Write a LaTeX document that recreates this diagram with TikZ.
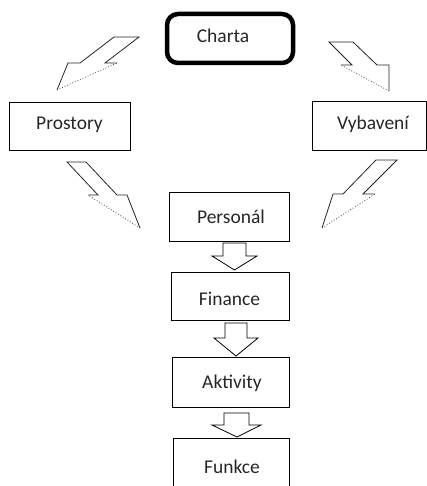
\documentclass[tikz,border=0pt]{standalone}
\usepackage{fontspec}
\setmainfont{Carlito}
\begin{document}
\begin{tikzpicture}[x=1pt,y=-1pt,
  box/.style={draw=black,line width=0.9pt,inner sep=0pt},
  lbl/.style={inner sep=0pt,anchor=base,font=\fontsize{19.5}{23}\selectfont,text=black!85},
  blk/.style={draw=black,line width=0.8pt,line join=miter,fill=white},
  bolt/.style={draw=black!85,line width=0.8pt,line join=miter},
  boltdot/.style={draw=black!70,line width=0.8pt,dotted}]
\useasboundingbox (0,0) rectangle (427,486);
\clip (0,0) rectangle (427,486);
% boxes
\node[box,line width=4.5pt,rounded corners=11pt,minimum width=126pt,minimum height=49pt] (charta) at (230,38.5) {};
\node[box,minimum width=121pt,minimum height=48pt] (prostory) at (69.5,126) {};
\node[box,minimum width=114pt,minimum height=49pt] (vybaveni) at (369,125.5) {};
\node[box,minimum width=120pt,minimum height=49pt] (personal) at (229,216.5) {};
\node[box,minimum width=118pt,minimum height=48pt] (finance) at (230,296) {};
\node[box,minimum width=117pt,minimum height=50pt] (aktivity) at (230.5,382) {};
\node[box,minimum width=116pt,minimum height=52pt] (funkce) at (231,464) {};
% labels
\node[lbl] (tcharta) at (223,43) {Charta};
\node[lbl] (tprostory) at (69.5,130) {Prostory};
\node[lbl] (tvybaveni) at (373,130) {Vybavení};
\node[lbl] (tpersonal) at (231,223) {Personál};
\node[lbl] (tfinance) at (229.5,305) {Finance};
\node[lbl] (taktivity) at (232,388) {Aktivity};
\node[lbl] (tfunkce) at (232,473) {Funkce};
% down block arrows
\draw[blk] (223,243) -- (246,243) -- (246,256) -- (257,256) -- (234.5,270) -- (212,256) -- (223,256) -- cycle;
\draw[blk] (225,323) -- (247,323) -- (247,338) -- (258,338) -- (236,356) -- (214,338) -- (225,338) -- cycle;
\draw[blk] (224,413) -- (249,413) -- (249,425) -- (261,425) -- (237,437) -- (212,425) -- (224,425) -- cycle;
% lightning arrows
% top-left
\draw[bolt] (117,63) -- (105,63) -- (139,37) -- (114,37) -- (80,63) -- (68,63) -- (57,90);
\draw[boltdot] (57,90) -- (117,63);
% top-right
\draw[bolt] (341,65) -- (352,65) -- (329,42) -- (353,42) -- (377,65) -- (389,65) -- (389,91);
\draw[boltdot] (389,91) -- (341,65);
% bottom-left
\draw[bolt] (88,195) -- (98,195) -- (67,162) -- (86,162) -- (117,195) -- (127,195) -- (140,228);
\draw[boltdot] (140,228) -- (88,195);
% bottom-right
\draw[bolt] (375,194) -- (363,194) -- (397,160) -- (376,160) -- (343,194) -- (333,194) -- (322,228);
\draw[boltdot] (322,228) -- (375,194);
\end{tikzpicture}
\end{document}
